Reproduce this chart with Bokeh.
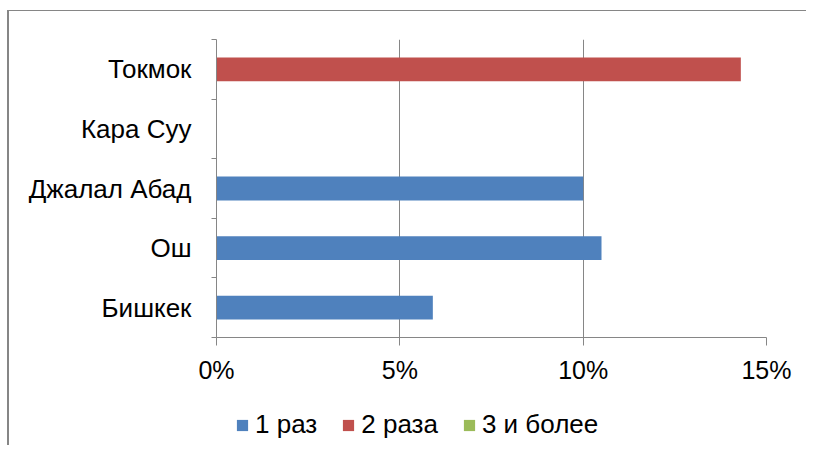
from bokeh.plotting import figure
from bokeh.layouts import column
from bokeh.models import (ColumnDataSource, Range1d, FixedTicker, NumeralTickFormatter,
                          Legend, LegendItem)
from bokeh.embed import file_html
from bokeh.resources import INLINE

# ---- data ----
categories = ["Бишкек", "Ош", "Джалал Абад", "Кара Суу", "Токмок"]
series_names = ["1 раз", "2 раза", "3 и более"]
once = [0.059, 0.105, 0.100, 0.0, 0.0]
twice = [0.0, 0.0, 0.0, 0.0, 0.143]
three_plus = [0.0, 0.0, 0.0, 0.0, 0.0]
x_ticks = [0.0, 0.05, 0.10, 0.15]
colors = ["#4F81BD", "#C0504D", "#9BBB59"]

FONT = "Liberation Sans"
GRAY = "#868686"

ypos = [i + 0.5 for i in range(len(categories))]
source = ColumnDataSource(dict(y=ypos, s1=once, s2=twice, s3=three_plus))

W = 797
p = figure(width=W, height=376,
           min_border_left=207, min_border_top=28, min_border_right=40, min_border_bottom=50,
           x_range=Range1d(0, 0.15), y_range=Range1d(0, len(categories)),
           output_backend="svg", toolbar_location=None)

renderers = p.hbar_stack(["s1", "s2", "s3"], y="y", height=0.4, color=colors,
                         source=source, line_color=None)

# x axis
p.xaxis.ticker = FixedTicker(ticks=x_ticks)
p.xaxis.formatter = NumeralTickFormatter(format="0%")
p.xaxis.axis_line_color = GRAY
p.xaxis.major_tick_line_color = GRAY
p.xaxis.major_tick_in = 0
p.xaxis.major_tick_out = 8
p.xaxis.minor_tick_line_color = None
p.xaxis.major_label_text_font = FONT
p.xaxis.major_label_text_font_size = "25px"
p.xaxis.major_label_text_color = "black"
p.xaxis.major_label_standoff = 10

# y axis: labels at category centers, ticks at boundaries
p.yaxis.ticker = FixedTicker(ticks=ypos, minor_ticks=list(range(len(categories) + 1)))
p.yaxis.major_label_overrides = {y: c for y, c in zip(ypos, categories)}
p.yaxis.axis_line_color = GRAY
p.yaxis.major_tick_line_color = None
p.yaxis.major_tick_in = 0
p.yaxis.major_tick_out = 0
p.yaxis.minor_tick_line_color = GRAY
p.yaxis.minor_tick_in = 0
p.yaxis.minor_tick_out = 5
p.yaxis.major_label_text_font = FONT
p.yaxis.major_label_text_font_size = "26px"
p.yaxis.major_label_text_color = "black"
p.yaxis.major_label_standoff = 20

p.xgrid.grid_line_color = GRAY
p.ygrid.grid_line_color = None
p.outline_line_color = None

# legend strip below the chart (its bars lie outside its visible range)
q = figure(width=W, height=58, x_range=Range1d(0, 1), y_range=Range1d(100, 101),
           min_border_left=207, min_border_right=40, min_border_top=0, min_border_bottom=0,
           x_axis_type=None, y_axis_type=None,
           output_backend="svg", toolbar_location=None)
q.grid.grid_line_color = None
q.outline_line_color = None
swatches = q.hbar_stack(["s1", "s2", "s3"], y="y", height=1.0, color=colors,
                        source=source, line_color=None)

legend = Legend(items=[LegendItem(label=n, renderers=[r]) for n, r in zip(series_names, swatches)],
                orientation="horizontal", location=(19, 5),
                label_text_font=FONT, label_text_font_size="26px", label_text_color="black",
                glyph_width=14, glyph_height=14, label_standoff=6, spacing=24,
                padding=0, margin=0, border_line_color=None, background_fill_alpha=0)
q.add_layout(legend, "center")

layout = column(p, q, spacing=0,
                styles={"border-top": "1px solid " + GRAY, "border-left": "2px solid " + GRAY,
                        "position": "relative", "top": "10px", "left": "7px"})

open("out.html", "w").write(file_html(layout, INLINE))
